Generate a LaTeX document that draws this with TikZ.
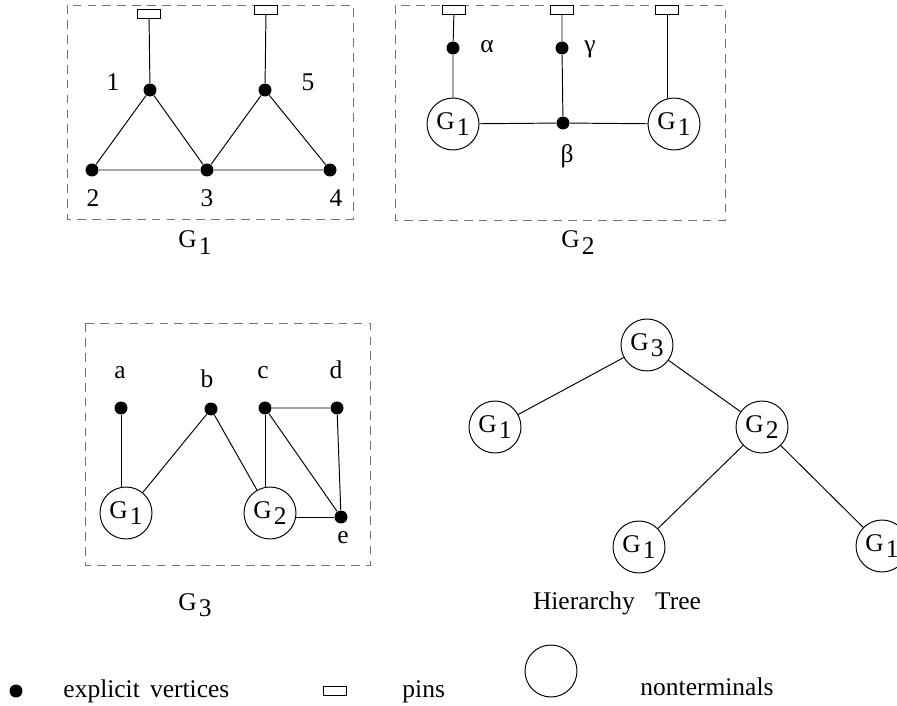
\documentclass[tikz,border=0pt]{standalone}
\usepackage{fontspec}
\setmainfont{Liberation Serif}
\usepackage{tikz}
\usetikzlibrary{positioning}
\newcommand{\gsym}[1]{G\kern1.2pt\raisebox{-3.6pt}{#1}}

\begin{document}
\begin{tikzpicture}[x=0.02cm, y=-0.02cm, line width=0.55pt,
    font=\fontsize{14.5}{16}\selectfont,
    vtx/.style={circle, fill=black, inner sep=0pt, minimum size=0.26cm},
    pinbox/.style={rectangle, draw, fill=white, inner sep=0pt, minimum width=0.46cm, minimum height=0.17cm},
    nterm/.style={circle, draw, inner sep=0pt, minimum size=1.04cm},
    lbl/.style={inner sep=0pt, anchor=base},
    frame/.style={draw=black!55, dash pattern=on 5pt off 3.5pt}]
            \useasboundingbox (0,0) rectangle (897,706);
            % G_1
            \draw[frame]                 (67,5) rectangle (353,219);
            \node[pinbox] (pa) at (149,14) {};
            \node[pinbox] (pb) at (266,10) {};
            \node[vtx]    (v1) at (150,90) {};
            \node[vtx]    (v5) at (265,90) {};
            \node[vtx]    (v2) at (92,170) {};
            \node[vtx]    (v3) at (207,170) {};
            \node[vtx]    (v4) at (330,170) {};
            \node[lbl]    (l1) at (113,91) {1};
            \node[lbl]    (l5) at (308,91) {5};
            \node[lbl]    (l2) at (93,207) {2};
            \node[lbl]    (l3) at (207,207) {3};
            \node[lbl]    (l4) at (336,207) {4};
            \draw (pa) -- (v1) (pb) -- (v5);
            \draw (v1) -- (v2) -- (v3) -- (v1);
            \draw (v3) -- (v5) -- (v4) -- (v3);
            \node[lbl]    (cap1) at (195,248) {\gsym{1}};
            % G_2
            \draw[frame]                 (395,5) rectangle (725,220);
            \node[pinbox] (pc) at (454,10) {};
            \node[pinbox] (pd) at (562,10) {};
            \node[pinbox] (pe) at (667,10) {};
            \node[vtx]    (va) at (453,48) {};
            \node[vtx]    (vc) at (562,48) {};
            \node[vtx]    (vb) at (563,123) {};
            \node[nterm]  (n1) at (453,124) {\gsym{1}};
            \node[nterm]  (n2) at (674,124) {\gsym{1}};
            \node[lbl]    (la) at (487,53) {α};
            \node[lbl]    (lc) at (590,53) {γ};
            \node[lbl]    (lb) at (567,163) {β};
            \draw (pc) -- (va) -- (n1);
            \draw (pd) -- (vc) -- (vb);
            \draw (n1) -- (vb) -- (n2);
            \draw (pe.south) -- (pe.south |- n2.north);
            \node[lbl]    (cap2) at (578,248) {\gsym{2}};
            % G_3
            \draw[frame]                 (85,323) rectangle (370,565);
            \node[vtx]    (ua) at (121,408) {};
            \node[vtx]    (ub) at (211,409) {};
            \node[vtx]    (uc) at (265,408) {};
            \node[vtx]    (ud) at (337,408) {};
            \node[vtx]    (ue) at (341,517) {};
            \node[nterm]  (m1) at (126,513) {\gsym{1}};
            \node[nterm]  (m2) at (270,513) {\gsym{2}};
            \node[lbl]    (lua) at (120,378) {a};
            \node[lbl]    (lub) at (207,387) {b};
            \node[lbl]    (luc) at (263,378) {c};
            \node[lbl]    (lud) at (336,378) {d};
            \node[lbl]    (lue) at (343,543) {e};
            \draw (ua) -- (ua |- m1.north);
            \draw (m1) -- (ub) -- (m2);
            \draw (uc) -- (uc |- m2.north);
            \draw (uc) -- (ud) -- (ue) -- (uc);
            \draw (ue) -- (ue -| m2.east);
            \node[lbl]    (cap3) at (195,610) {\gsym{3}};
            % hierarchy tree
            \node[nterm]  (t3)  at (647,345) {\gsym{3}};
            \node[nterm]  (t1)  at (495,427) {\gsym{1}};
            \node[nterm]  (t2)  at (762,427) {\gsym{2}};
            \node[nterm]  (t1a) at (639,547) {\gsym{1}};
            \node[nterm]  (t1b) at (882,546) {\gsym{1}};
            \draw (t3) -- (t1) (t3) -- (t2);
            \draw (t2) -- (t1a) (t2) -- (t1b);
            \node[lbl]    (cap4) at (617,609) {Hierarchy\hspace{0.8em}Tree};
            % legend
            \node[vtx]    (kv) at (16,691) {};
            \node[lbl, anchor=base west] (kvt) at (63,697) {explicit\hspace{0.4em}vertices};
            \node[pinbox] (kp) at (335,691) {};
            \node[lbl, anchor=base west] (kpt) at (402,697) {pins};
            \node[nterm]  (kn) at (551,671) {};
            \node[lbl, anchor=base west] (knt) at (640,695) {nonterminals};
\end{tikzpicture}
\end{document}
